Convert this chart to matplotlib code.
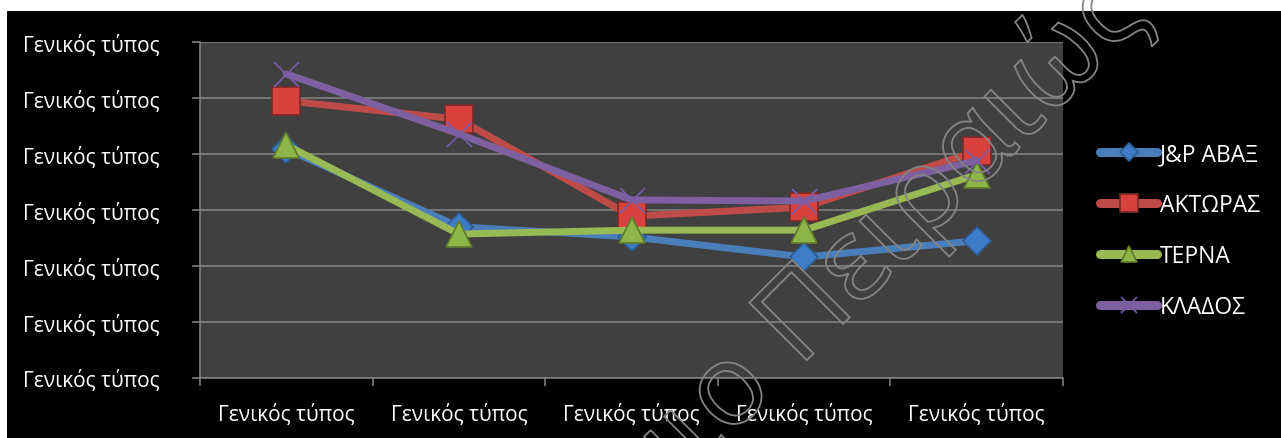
import matplotlib
matplotlib.use("Agg")
import matplotlib.pyplot as plt
from matplotlib.patches import Rectangle, PathPatch
from matplotlib.textpath import TextPath
from matplotlib.font_manager import FontProperties
from matplotlib.transforms import Affine2D

plt.rcParams['font.family'] = ['Open Sans', 'DejaVu Sans']

categories = ["Γενικός τύπος"] * 5
ytick_labels = ["Γενικός τύπος"] * 7
series_names = ["J&P ΑΒΑΞ", "ΑΚΤΩΡΑΣ", "ΤΕΡΝΑ", "ΚΛΑΔΟΣ"]
abax = [4.09, 2.70, 2.52, 2.16, 2.45]
aktor = [4.95, 4.62, 2.89, 3.05, 4.05]
terna = [4.16, 2.57, 2.64, 2.64, 3.63]
klados = [5.43, 4.36, 3.18, 3.16, 3.88]
values = [abax, aktor, terna, klados]

line_colors = ["#4A7EBB", "#BE4B48", "#98B954", "#7D60A0"]
face_colors = ["#3F7CC8", "#D9413E", "#8DB548", "#7D60A0"]
edge_colors = ["#2E5C94", "#7A2A28", "#5E7A2C", "#6A4C8F"]
markers = ["D", "s", "^", "x"]
msizes = [14, 19.5, 18.5, 18]

W, H = 1281, 439
fig = plt.figure(figsize=(W / 100, H / 100), dpi=100, facecolor="white")
fig.patches.append(Rectangle((7 / W, 0), 1 - 7 / W, (H - 12) / H,
                             transform=fig.transFigure, facecolor="black",
                             edgecolor="none", zorder=-5))

ax = fig.add_axes([200 / W, (H - 379) / H, 863 / W, 336 / H])
ax.set_zorder(1)
ax.set_facecolor("#404040")

x = list(range(1, len(categories) + 1))
for name, vals, lc, fc, ec, mk, ms in zip(series_names, values, line_colors,
                                          face_colors, edge_colors, markers, msizes):
    if mk == "x":
        ax.plot(x, vals, color=lc, lw=5, marker=mk, ms=ms, mew=1.2,
                mec="#7A5CA8", label=name, solid_capstyle="round", zorder=3)
    else:
        ax.plot(x, vals, color=lc, lw=5, marker=mk, ms=ms, mfc=fc, mec=ec,
                mew=1.2, label=name, solid_capstyle="round", zorder=3)

ax.set_xlim(0.5, len(categories) + 0.5)
ax.set_ylim(0, 6)
ax.set_yticks(range(7))
ax.set_yticklabels(ytick_labels)
ax.set_xticks([i + 0.5 for i in range(0, len(categories) + 1)])
ax.set_xticklabels([])
ax.set_xticks(x, minor=True)
ax.set_xticklabels(categories, minor=True)
ax.yaxis.grid(True, color="#868686", lw=1.1)
ax.set_axisbelow(True)
for s in ["top", "right"]:
    ax.spines[s].set_visible(False)
for s in ["left", "bottom"]:
    ax.spines[s].set_color("#868686")
    ax.spines[s].set_linewidth(1.1)
ax.tick_params(axis="y", which="major", length=6, color="#868686", width=1.1,
               labelcolor="white", labelsize=15, pad=23)
ax.tick_params(axis="x", which="major", length=6, color="#868686", width=1.1)
ax.tick_params(axis="x", which="minor", length=0, labelcolor="white",
               labelsize=15, pad=18)

leg = ax.legend(loc="upper left", bbox_to_anchor=(1100 / W, (H - 143) / H),
                bbox_transform=fig.transFigure, frameon=False, fontsize=16.5,
                handlelength=2.5, handletextpad=0.12, labelspacing=1.18,
                borderpad=0, borderaxespad=0, markerscale=0.65)
for t in leg.get_texts():
    t.set_color("white")
for h in leg.get_lines():
    h.set_linewidth(6.5)

# watermark outline text
fp = FontProperties(family="Open Sans")
em = 82 * 100 / 72
for txt, (px, py), align in [("Πειραιώς", (799, H - 369), "left"),
                             ("Πανεπιστήμιο", (772, H - 396), "right")]:
    tp = TextPath((0, 0), txt, size=em, prop=fp)
    ext = tp.get_extents()
    dx = 0 if align == "left" else -ext.x1
    tr = Affine2D().translate(dx, 0).rotate_deg(45).translate(px, py)
    patch = PathPatch(tp, transform=tr, facecolor="none",
                      edgecolor="#858585", lw=1.3, zorder=10)
    fig.add_artist(patch)

fig.savefig("out.png", dpi=100, facecolor=fig.get_facecolor())
